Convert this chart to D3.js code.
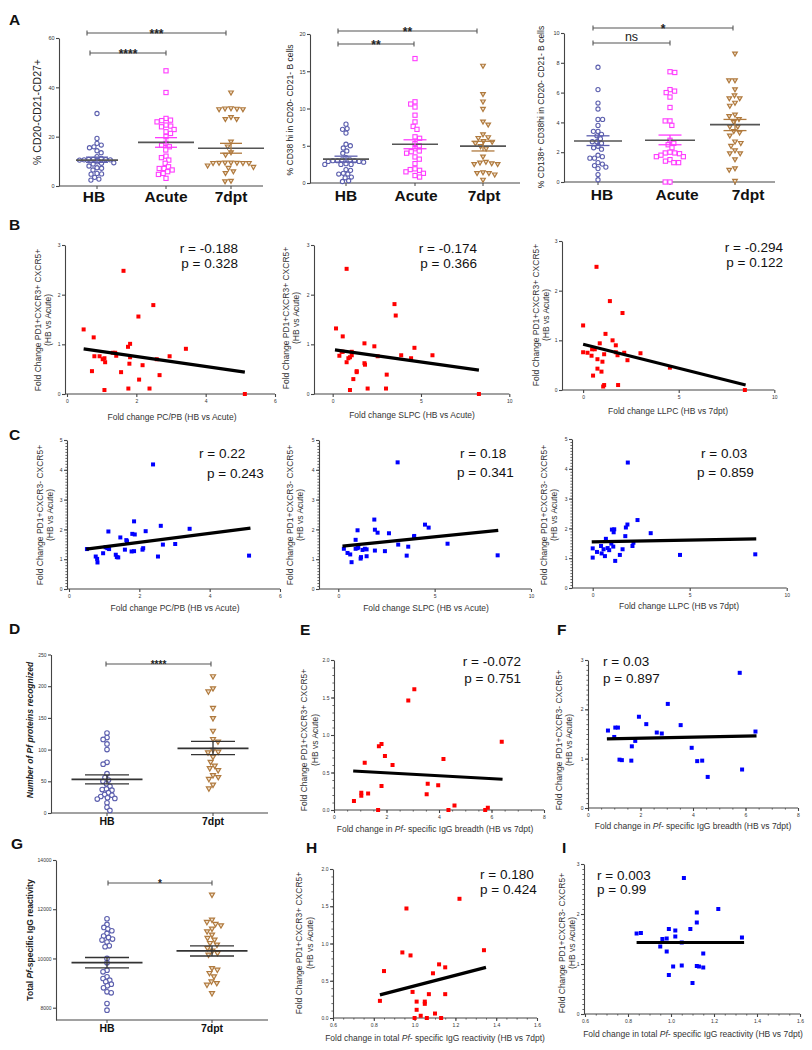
<!DOCTYPE html>
<html><head><meta charset="utf-8">
<script src="https://cdn.jsdelivr.net/npm/d3@7"></script>
<style>body{margin:0;background:#fff} text{font-family:"Liberation Sans",Arial,sans-serif}</style>
</head><body><svg id="chart" width="812" height="1050"></svg>
<script>
// ---------------- DATA ----------------
const groupsA = ["HB","Acute","7dpt"];
const groupsDG = ["HB","7dpt"];

// Panel A1: % CD20-CD21-CD27+
const a1_HB = [29.4,19.3,17.3,16.6,15.9,15.5,14.3,13.5,11.9,11.2,10.8,10.8,10.7,10.6,10.6,10.5,9.8,9.4,9.2,8.9,8.1,7.4,7.2,6.5,5.1,4.9,4.8,3.5,2.8,2.4];
const a1_Acute = [46.7,37.9,27.4,26.7,26.5,26.0,24.7,24.3,24.0,22.9,22.0,21.3,20.0,17.3,16.5,15.9,14.6,12.1,11.5,10.5,9.2,7.8,7.1,7.1,6.5,5.8,5.1,4.7,3.1];
const a1_7dpt = [37.8,31.4,31.3,31.2,31.0,31.0,27.8,27.0,27.0,17.9,15.9,13.5,12.5,9.4,9.4,9.3,9.3,9.2,9.2,9.2,8.2,7.6,7.2,5.8,5.1,2.0,1.8];
const a1_mean = [10.5,17.7,15.3];
const a1_semHi = [11.7,19.6,17.3];
const a1_semLo = [9.6,15.7,13.3];
const a1_sig = [["HB","7dpt","***"],["HB","Acute","****"]];
const a1_ticks = [0,20,40,60];

// Panel A2: % CD38 hi
const a2_HB = [7.9,7.3,7.2,6.7,5.2,5.0,4.7,4.3,4.0,3.4,3.1,3.1,3.0,3.0,3.0,2.9,2.9,2.8,2.6,2.5,2.5,2.5,1.8,1.7,1.3,1.2,1.2,0.8,0.7,0.3,0.2];
const a2_Acute = [16.7,10.9,10.6,10.2,9.1,8.2,7.6,7.2,6.2,6.0,5.3,5.0,4.6,4.3,4.2,4.0,3.5,3.2,2.6,1.9,1.8,1.7,1.5,1.3,1.0,0.8];
const a2_7dpt = [15.7,11.9,10.9,9.9,8.2,7.8,6.5,6.1,6.0,5.6,5.5,5.3,4.9,4.6,3.5,2.8,2.7,2.6,2.5,2.5,1.4,1.3,1.3,1.1,0.4];
const a2_mean = [3.2,5.2,4.95];
const a2_semHi = [3.6,5.8,5.6];
const a2_semLo = [2.8,4.6,4.3];
const a2_sig = [["HB","7dpt","**"],["HB","Acute","**"]];
const a2_ticks = [0,5,10,15,20];

// Panel A3: % CD138+ CD38hi
const a3_HB = [7.7,6.2,5.3,4.9,4.2,4.2,3.8,3.4,3.4,3.2,3.1,2.9,2.7,2.7,2.6,2.4,2.3,2.2,1.8,1.7,1.6,1.6,1.3,1.2,1.1,1.0,0.9,0.5,0.15];
const a3_Acute = [7.4,7.35,6.2,6.1,6.0,5.7,5.0,4.1,4.1,3.8,2.8,2.6,2.5,2.3,2.0,1.95,1.95,1.9,1.8,1.7,1.7,1.5,1.4,1.3,1.3,0,0];
const a3_7dpt = [8.6,6.8,6.8,6.2,5.8,5.6,5.6,5.3,5.1,4.5,4.4,4.2,4.0,3.7,3.7,3.4,3.3,3.1,2.7,2.6,2.4,2.1,1.9,1.9,1.5,0.9,0.8,0.05];
const a3_mean = [2.75,2.8,3.85];
const a3_semHi = [3.1,3.15,4.2];
const a3_semLo = [2.45,2.5,3.45];
const a3_sig = [["HB","7dpt","*"],["HB","Acute","ns"]];
const a3_ticks = [0,2,4,6,8,10];

// Panel B (CXCR3+)
const b1_x = [0.48,0.77,0.72,0.79,0.94,1.03,1.08,1.10,1.08,1.32,1.39,1.42,1.63,1.56,1.76,1.82,1.82,1.80,1.77,2.06,2.08,2.18,2.38,2.49,2.59,2.67,2.96,3.43,5.13];
const b1_y = [1.30,1.14,0.46,0.76,0.76,0.70,0.72,0.64,0.08,0.83,0.83,0.77,2.48,0.44,0.95,1.01,0.74,0.61,0.11,1.56,0.29,0.58,0.11,1.79,0.70,0.38,0.76,0.91,0.0];
const b1_fit = [[0.48,0.91],[5.13,0.44]];
const b1_stats = ["r = -0.188","p = 0.328"];

const b2_x = [0.19,0.57,0.38,0.51,0.57,0.79,0.79,0.89,0.98,1.08,1.08,0.98,1.17,1.36,1.36,1.80,1.80,1.83,1.98,2.36,2.55,3.02,3.06,3.50,3.57,3.88,4.44,4.63,5.65,8.28];
const b2_y = [1.32,1.16,0.77,0.85,0.85,2.52,0.64,0.72,0.74,0.85,0.78,0.08,0.30,0.46,0.44,1.02,0.62,0.59,0.11,0.96,0.76,0.11,0.39,1.81,1.58,0.78,0.72,0.93,0.78,0.0];
const b2_fit = [[0.13,0.89],[8.28,0.48]];
const b2_stats = ["r = -0.174","p = 0.366"];

const b3_x = [0,0,0.23,0.44,0.47,0.61,0.52,0.70,0.75,0.75,0.87,0.96,1.01,1.05,1.10,1.10,1.17,1.40,1.54,1.71,1.71,1.80,1.83,2.06,2.15,2.32,3.00,4.54,8.46];
const b3_y = [1.30,0.76,0.75,0.69,0.82,0.82,0.29,2.48,0.62,0.43,0.94,0.37,0.57,0.07,0.10,0.72,1.13,1.79,1.00,0.90,0.76,0.70,0.10,1.55,0.75,0.60,0.74,0.45,0.0];
const b3_fit = [[0,0.92],[8.50,0.10]];
const b3_stats = ["r = -0.294","p = 0.122"];

// Panel C (CXCR3-)
const c1_x = [0.51,0.76,0.80,0.81,0.97,1.04,1.09,1.14,1.12,1.33,1.36,1.40,1.46,1.59,1.63,1.65,1.78,1.80,1.85,1.87,1.85,2.09,2.11,2.18,2.39,2.53,2.61,2.67,3.02,3.43,5.12];
const c1_y = [1.34,1.09,1.01,0.89,1.20,1.40,1.37,1.34,1.93,1.15,1.07,1.06,1.73,1.32,1.64,1.60,1.26,1.85,1.27,1.83,2.27,1.32,1.37,1.94,4.18,1.09,2.12,1.49,1.51,2.02,1.12];
const c1_fit = [[0.49,1.34],[5.16,2.04]];
const c1_stats = ["r = 0.22","p = 0.243"];

const c2_x = [0.29,0.48,0.62,0.69,0.90,0.90,1.00,1.00,1.04,1.16,1.18,1.26,1.38,1.47,1.47,1.87,1.90,1.90,2.04,2.42,2.63,3.08,3.11,3.55,3.63,3.93,3.94,4.50,4.69,5.67,8.27];
const c2_y = [1.35,1.21,1.16,0.90,1.65,1.35,1.97,1.37,1.40,1.02,1.07,1.31,1.35,1.33,1.10,2.33,1.99,1.29,1.89,1.27,1.87,4.25,1.49,1.12,1.42,1.75,1.78,2.16,2.06,1.52,1.13];
const c2_fit = [[0.22,1.44],[8.30,1.97]];
const c2_stats = ["r = 0.18","p = 0.341"];

const c3_x = [0,0,0.22,0.43,0.46,0.56,0.63,0.68,0.77,0.85,0.96,0.99,1.08,1.11,1.06,1.16,1.40,1.54,1.68,1.71,1.79,1.81,2.05,2.10,2.31,2.99,4.50,8.38];
const c3_y = [1.33,1.02,1.21,1.41,1.16,1.30,1.07,1.65,1.34,1.27,1.49,1.96,1.87,1.97,1.39,0.91,1.11,1.30,1.74,2.03,2.13,4.21,1.41,1.52,2.28,1.84,1.11,1.13];
const c3_fit = [[-0.05,1.55],[8.43,1.65]];
const c3_stats = ["r = 0.03","p = 0.859"];

// Panel D: number of Pf proteins recognized
const d_HB = [126,119,116,109,100,80,77,62,56,52,50,46,42,38,37,36,32,29,28,26,24,23,22,16,9,4];
const d_7dpt = [215,196,191,165,149,129,116,112,99,96,95,88,80,74,70,67,59,56,53,44,38];
const d_mean = [53,102];
const d_semHi = [60,113];
const d_semLo = [46,92];
const d_sig = [["HB","7dpt","****"]];
const d_ticks = [0,50,100,150,200,250];

// Panel E, F: breadth
const e_x = [0.76,1.04,1.04,1.17,1.30,1.68,1.71,1.81,1.81,1.94,2.23,2.83,3.06,3.53,3.57,3.97,4.17,4.36,4.59,5.76,5.86,6.39];
const e_y = [0.12,0.23,0.19,0.63,0.22,0.0,0.85,0.88,0.32,0.72,0.60,1.46,1.61,0.21,0.35,0.33,0.68,0.0,0.06,0.0,0.03,0.91];
const e_fit = [[0.73,0.52],[6.42,0.41]];
const e_stats = ["r = -0.072","p = 0.751"];

const f_x = [0.76,1.00,1.04,1.14,1.20,1.29,1.67,1.65,1.80,1.94,2.22,2.62,2.81,3.04,3.53,3.95,4.16,4.35,4.56,5.87,6.38,5.78];
const f_y = [1.57,1.44,1.63,1.63,0.98,0.97,1.25,0.96,1.36,1.85,1.70,1.53,1.51,2.11,1.68,1.22,0.95,0.96,0.63,0.78,1.55,2.74];
const f_fit = [[0.72,1.40],[6.42,1.46]];
const f_stats = ["r = 0.03","p = 0.897"];

// Panel G: total Pf-specific IgG reactivity
const g_HB = [11614,11383,11261,11193,11125,11017,10908,10854,10786,10746,10664,10515,10475,10000,9824,9525,9458,9254,9186,9119,9051,8956,8888,8807,8644,8603,8169,7898];
const g_7dpt = [12576,11559,11464,11383,11329,11193,11085,10949,10814,10746,10610,10542,10407,10298,10203,10136,9593,9525,9390,9254,9051,8983,8915,8576];
const g_mean = [9830,10310];
const g_semHi = [10040,10510];
const g_semLo = [9620,10100];
const g_sig = [["HB","7dpt","*"]];
const g_ticks = [8000,10000,12000,14000];

// Panel H, I: total reactivity
const h_x = [0.83,0.85,0.94,0.96,0.98,0.99,1.00,1.01,1.01,1.03,1.05,1.05,1.06,1.07,1.09,1.10,1.12,1.13,1.15,1.15,1.22,1.34];
const h_y = [0.23,0.63,0.88,1.47,0.84,0.35,0.0,0.22,0.11,0.03,0.19,0.22,0.0,0.32,0.60,0.06,0.72,0.0,0.68,0.32,1.60,0.91];
const h_fit = [[0.83,0.31],[1.35,0.68]];
const h_stats = ["r = 0.180","p = 0.424"];

const i_x = [0.84,0.86,0.95,0.96,0.98,0.98,0.99,1.01,0.99,1.02,1.02,1.05,1.05,1.06,1.09,1.10,1.12,1.12,1.12,1.13,1.15,1.15,1.22,1.33];
const i_y = [1.61,1.62,1.35,1.50,1.51,1.25,1.70,0.95,0.78,1.55,1.67,1.43,0.97,2.72,1.70,0.62,0.96,2.03,1.83,0.95,0.93,1.21,2.10,1.53];
const i_fit = [[0.84,1.43],[1.34,1.43]];
const i_stats = ["r = 0.003","p = 0.99"];

// tick label arrays
const ticks3 = [0,1,2,3];
const ticks5 = [0,1,2,3,4,5];
const ticks2h = [0,0.5,1,1.5,2];
const xt6 = [0,2,4,6];
const xt10 = [0,5,10];
const xt8 = [0,2,4,6,8];
const xtR = [0.6,0.8,1.0,1.2,1.4,1.6];

const ylab3p = "Fold Change PD1+CXCR3+ CXCR5+";
const ylab3m = "Fold Change PD1+CXCR3- CXCR5+";
const ylab2 = "(HB vs Acute)";

// ---------------- DRAWING ----------------
const svg = d3.select("#chart");
const COLORS = {HB:"#5c5fae", Acute:"#ff3cff", "7dpt":"#b07a3e"};
const SHAPES = {HB:"circle", Acute:"square", "7dpt":"tri"};
const DISTK = {circle:1, square:1.05, tri:1.3};
const AX = "#444";

function panelLetter(x,y,t){
  svg.append("text").attr("x",x).attr("y",y).attr("font-size",15.5).attr("font-weight","bold").attr("fill","#111").text(t);
}

function marker(g, shape, cx, cy, color, s){
  if(shape==="circle") g.append("circle").attr("cx",cx).attr("cy",cy).attr("r",s).attr("fill","#fff").attr("stroke",color).attr("stroke-width",1.1);
  else if(shape==="square") g.append("rect").attr("x",cx-s).attr("y",cy-s).attr("width",2*s).attr("height",2*s).attr("fill","#fff").attr("stroke",color).attr("stroke-width",1.1);
  else g.append("path").attr("d",`M${cx-s*1.1},${cy-s*0.85}L${cx+s*1.1},${cy-s*0.85}L${cx},${cy+s*1.05}Z`).attr("fill","#f1e2cf").attr("stroke",color).attr("stroke-width",1.2);
}

function swarm(vals, y, d){
  const pts = vals.map(v=>({v, cy:y(v), dx:0})).sort((a,b)=>b.v-a.v);
  const placed = [];
  let flip = 1;
  for(const p of pts){
    const cands=[0];
    for(const q of placed){
      const dy=Math.abs(q.cy-p.cy);
      if(dy<d){ const w=Math.sqrt(d*d-dy*dy); cands.push(q.dx+w, q.dx-w); }
    }
    cands.sort((a,b)=>Math.abs(a)-Math.abs(b) || (a*flip<b*flip?-1:1));
    for(const c of cands){
      if(placed.every(q=>{const dx=q.dx-c, dy=q.cy-p.cy; return dx*dx+dy*dy>=d*d-0.01;})){p.dx=c;break;}
    }
    flip=-flip;
    placed.push(p);
  }
  return pts;
}

function styleAxis(sel, fs){
  sel.selectAll("path,line").attr("stroke",AX).attr("stroke-width",1.1);
  sel.selectAll("text").attr("font-size",fs).attr("fill","#333").attr("font-family","Liberation Sans, Arial, sans-serif");
}

function rich(parent, parts, attrs){
  const t = parent.append("text");
  Object.entries(attrs).forEach(([k,v])=>t.attr(k,v));
  parts.forEach(p=>{ const s=t.append("tspan").text(p[0]); if(p[1]) s.attr("font-style","italic"); });
  return t;
}

function dotPlot(o){
  const g = svg.append("g");
  const y = d3.scaleLinear().domain(o.domain).range([o.y0,o.y1]);
  const x = d3.scaleOrdinal().domain(o.groups).range(o.centers);
  const ya = g.append("g").attr("transform",`translate(${o.ax},0)`)
    .call(d3.axisLeft(y).tickValues(o.ticks).tickSize(3).tickSizeOuter(0).tickPadding(1.5).tickFormat(d3.format("d")));
  styleAxis(ya, o.tickFont||5.5);
  g.append("line").attr("x1",o.ax).attr("x2",o.xEnd).attr("y1",o.y0).attr("y2",o.y0).attr("stroke",AX).attr("stroke-width",1.2);
  o.groups.forEach((k,i)=>{
    g.append("line").attr("x1",x(k)).attr("x2",x(k)).attr("y1",o.y0).attr("y2",o.y0+3).attr("stroke",AX).attr("stroke-width",1);
    g.append("text").attr("x",x(k)+(o.labelShift?o.labelShift[i]:0)).attr("y",o.labelY).attr("text-anchor","middle")
      .attr("font-size",o.labelSize).attr("font-weight","bold").attr("fill","#111").text(k);
  });
  o.groups.forEach((k,i)=>{
    swarm(o.series[i], y, o.dist*DISTK[SHAPES[k]]).forEach(p=>marker(g, SHAPES[k], x(k)+p.dx, p.cy, COLORS[k], o.ms));
  });
  o.groups.forEach((k,i)=>{
    const cx=x(k), ec=o.errColor||COLORS[k];
    g.append("line").attr("x1",cx-o.meanHalf[i]).attr("x2",cx+o.meanHalf[i]).attr("y1",y(o.mean[i])).attr("y2",y(o.mean[i]))
      .attr("stroke",o.meanColor).attr("stroke-width",1.6);
    g.append("line").attr("x1",cx).attr("x2",cx).attr("y1",y(o.lo[i])).attr("y2",y(o.hi[i])).attr("stroke",ec).attr("stroke-width",1.3);
    [o.lo[i],o.hi[i]].forEach(v=>g.append("line").attr("x1",cx-o.capHalf).attr("x2",cx+o.capHalf).attr("y1",y(v)).attr("y2",y(v)).attr("stroke",ec).attr("stroke-width",1.3));
  });
  o.sig.forEach((s,j)=>{
    const yy=o.sigY[j], x1=x(s[0])+o.sigShift[j][0], x2=x(s[1])+o.sigShift[j][1];
    g.append("line").attr("x1",x1).attr("x2",x2).attr("y1",yy).attr("y2",yy).attr("stroke","#555").attr("stroke-width",1.1);
    [x1,x2].forEach(xx=>g.append("line").attr("x1",xx).attr("x2",xx).attr("y1",yy-2.5).attr("y2",yy+2.5).attr("stroke","#555").attr("stroke-width",1.1));
    if(s[2]==="ns") g.append("text").attr("x",(x1+x2)/2).attr("y",yy-2).attr("text-anchor","middle").attr("font-size",12.5).attr("fill","#222").text("ns");
    else g.append("text").attr("x",(x1+x2)/2).attr("y",yy+o.starDy).attr("text-anchor","middle").attr("font-size",o.starSize).attr("font-weight","bold").attr("fill","#222").text(s[2]);
  });
  const yl = o.ylabel;
  rich(g, yl.parts, {transform:`translate(${yl.x},${yl.y}) rotate(-90)`, "text-anchor":"middle", "font-size":yl.size,
    "font-weight":yl.bold?"bold":"normal", "font-style":yl.italic?"italic":"normal", fill:"#222"});
}

function scatter(o){
  const g = svg.append("g");
  const x = d3.scaleLinear().domain(o.xd).range(o.xr);
  const y = d3.scaleLinear().domain(o.yd).range(o.yr);
  if(o.yminor){
    const m = g.append("g").attr("transform",`translate(${o.ax},0)`).call(d3.axisLeft(y).tickValues(d3.range(o.yd[0],o.yd[1]+1e-9,o.yminor)).tickSize(1.6).tickFormat(""));
    m.select(".domain").remove(); m.selectAll("line").attr("stroke",AX).attr("stroke-width",0.8);
  }
  if(o.xminor){
    const m = g.append("g").attr("transform",`translate(0,${o.yr[0]})`).call(d3.axisBottom(x).tickValues(d3.range(o.xd[0],o.xd[1]+1e-9,o.xminor)).tickSize(1.6).tickFormat(""));
    m.select(".domain").remove(); m.selectAll("line").attr("stroke",AX).attr("stroke-width",0.8);
  }
  const ya = g.append("g").attr("transform",`translate(${o.ax},0)`)
    .call(d3.axisLeft(y).tickValues(o.yticks).tickSize(3).tickSizeOuter(0).tickPadding(1.5).tickFormat(d3.format(o.yfmt||"d")));
  styleAxis(ya, 5);
  const xa = g.append("g").attr("transform",`translate(0,${o.yr[0]})`)
    .call(d3.axisBottom(x).tickValues(o.xticks).tickSize(3).tickSizeOuter(0).tickPadding(2).tickFormat(d3.format(o.xfmt||"d")));
  xa.select(".domain").remove();
  styleAxis(xa, 5);
  g.append("line").attr("x1",o.ax).attr("x2",o.xr[1]).attr("y1",o.yr[0]).attr("y2",o.yr[0]).attr("stroke",AX).attr("stroke-width",1.2);
  o.xs.forEach((v,i)=>g.append("rect").attr("x",x(v)-2).attr("y",y(o.ys[i])-2).attr("width",4).attr("height",4).attr("fill",o.color));
  g.append("line").attr("x1",x(o.fit[0][0])).attr("y1",y(o.fit[0][1])).attr("x2",x(o.fit[1][0])).attr("y2",y(o.fit[1][1]))
    .attr("stroke","#000").attr("stroke-width",3.2).attr("stroke-linecap","butt");
  o.stats.forEach((s,i)=>g.append("text").attr("x",o.statX[i]).attr("y",o.statY[i]).attr("text-anchor",o.anchor)
    .attr("font-size",13.5).attr("fill","#111").text(s));
  rich(g, o.xlabel, {x:o.xlx, y:o.xly, "text-anchor":"middle", "font-size":8.5, fill:"#333"});
  [o.yl1, ylab2].forEach((t,i)=>g.append("text").attr("transform",`translate(${o.ylx[i]},${o.yly}) rotate(-90)`)
    .attr("text-anchor","middle").attr("font-size",8.5).attr("fill","#333").text(t));
}

// ---- Panel A ----
panelLetter(9,25,"A");
dotPlot({groups:groupsA, series:[a1_HB,a1_Acute,a1_7dpt], mean:a1_mean, hi:a1_semHi, lo:a1_semLo, sig:a1_sig, ticks:a1_ticks,
  domain:[0,60], ax:59, y0:186, y1:38, xEnd:263, centers:[97,166,231], labelY:202, labelSize:15.5, labelShift:[-3,0,0],
  meanHalf:[21,28,33], capHalf:11, meanColor:"#555", sigY:[33,53], sigShift:[[-10,-5],[-7,0]], starSize:12, starDy:4.5,
  ms:2.1, dist:4.6, ylabel:{parts:[["% CD20-CD21-CD27+",0]], x:41, y:112, size:10.5}});
dotPlot({groups:groupsA, series:[a2_HB,a2_Acute,a2_7dpt], mean:a2_mean, hi:a2_semHi, lo:a2_semLo, sig:a2_sig, ticks:a2_ticks,
  domain:[0,20], ax:310, y0:183, y1:34, xEnd:520, centers:[346,415,483], labelY:201, labelSize:15.5, labelShift:[0,1,1],
  meanHalf:[23,23,23], capHalf:11.5, meanColor:"#555", sigY:[31,44], sigShift:[[-8,-6],[-8,-1]], starSize:12, starDy:4.5,
  ms:2.1, dist:4.6, ylabel:{parts:[["% CD38 hi in CD20- CD21- B cells",0]], x:293, y:110, size:8.5}});
dotPlot({groups:groupsA, series:[a3_HB,a3_Acute,a3_7dpt], mean:a3_mean, hi:a3_semHi, lo:a3_semLo, sig:a3_sig, ticks:a3_ticks,
  domain:[0,10], ax:564, y0:182, y1:33, xEnd:775, centers:[598,670,735], labelY:200, labelSize:15.5, labelShift:[4,7,13],
  meanHalf:[24,25,25], capHalf:11.5, meanColor:"#555", sigY:[28,43], sigShift:[[-5,-2],[-5,0]], starSize:12, starDy:4.5,
  ms:2.1, dist:4.6, ylabel:{parts:[["% CD138+ CD38hi in CD20- CD21- B cells",0]], x:544, y:107, size:8.5}});

// ---- Panel B ----
panelLetter(9,230,"B");
scatter({xd:[0,6], xr:[67,275], yd:[0,3], yr:[394,245], ax:65, xticks:xt6, yticks:ticks3, xs:b1_x, ys:b1_y, fit:b1_fit, color:"#ff0000",
  stats:b1_stats, statX:[238,238], statY:[253,268], anchor:"end", xlabel:[["Fold change PC/PB (HB vs Acute)",0]], xlx:172, xly:420,
  yl1:ylab3p, ylx:[41,51], yly:320});
scatter({xd:[-1,10], xr:[315,509.3], yd:[0,3], yr:[394,245], ax:314, xticks:xt10, yticks:ticks3, xs:b2_x, ys:b2_y, fit:b2_fit, color:"#ff0000",
  stats:b2_stats, statX:[477,477], statY:[253,268], anchor:"end", xlabel:[["Fold change SLPC (HB vs Acute)",0]], xlx:412, xly:418,
  yl1:ylab3p, ylx:[289,299], yly:318});
scatter({xd:[-1,10], xr:[564,774.3], yd:[0,3], yr:[390,241], ax:562, xticks:xt10, yticks:ticks3, xs:b3_x, ys:b3_y, fit:b3_fit, color:"#ff0000",
  stats:b3_stats, statX:[783,783], statY:[252,267], anchor:"end", xlabel:[["Fold change LLPC (HB vs 7dpt)",0]], xlx:668, xly:414,
  yl1:ylab3p, ylx:[539,549], yly:315});

// ---- Panel C ----
panelLetter(9,440,"C");
scatter({xd:[0,6], xr:[69,280], yd:[0,5], yr:[589,440], ax:67, xticks:xt6, yticks:ticks5, yminor:0.1, xs:c1_x, ys:c1_y, fit:c1_fit, color:"#0000ff",
  stats:c1_stats, statX:[199,207], statY:[458,478], anchor:"start", xlabel:[["Fold change PC/PB (HB vs Acute)",0]], xlx:175, xly:611,
  yl1:ylab3m, ylx:[43,53], yly:515});
scatter({xd:[-1,10], xr:[319,531], yd:[0,5], yr:[589,440], ax:319, xticks:xt10, yticks:ticks5, yminor:0.1, xs:c2_x, ys:c2_y, fit:c2_fit, color:"#0000ff",
  stats:c2_stats, statX:[460,457], statY:[458,477], anchor:"start", xlabel:[["Fold change SLPC (HB vs Acute)",0]], xlx:426, xly:611,
  yl1:ylab3m, ylx:[293,303], yly:515});
scatter({xd:[-1,10], xr:[573.3,786.7], yd:[0,5], yr:[588,439], ax:572, xticks:xt10, yticks:ticks5, yminor:0.1, xs:c3_x, ys:c3_y, fit:c3_fit, color:"#0000ff",
  stats:c3_stats, statX:[701,697], statY:[458,477], anchor:"start", xlabel:[["Fold change LLPC (HB vs 7dpt)",0]], xlx:679, xly:609,
  yl1:ylab3m, ylx:[547,557], yly:515});

// ---- Panel D ----
panelLetter(9,634,"D");
dotPlot({groups:groupsDG, series:[d_HB,d_7dpt], mean:d_mean, hi:d_semHi, lo:d_semLo, sig:d_sig, ticks:d_ticks,
  domain:[0,250], ax:51, y0:813, y1:654.5, xEnd:268, centers:[107,213], labelY:825, labelSize:10.5,
  meanHalf:[35.5,35.5], capHalf:22, meanColor:"#333", errColor:"#333", sigY:[664], sigShift:[[-1,-2]], starSize:10, starDy:3.5,
  ms:2.3, dist:4.3, tickFont:5, ylabel:{parts:[["Number of ",0],["Pf",1],[" proteins recognized",0]], x:33, y:730, size:8.5, bold:true, italic:true}});

// ---- Panel E / F ----
panelLetter(300,635,"E");
scatter({xd:[0,8], xr:[334,544], yd:[0,2], yr:[810,660], ax:334, xticks:xt8, yticks:ticks2h, yfmt:".1f", yminor:0.1, xminor:0.5,
  xs:e_x, ys:e_y, fit:e_fit, color:"#ff0000", stats:e_stats, statX:[521,521], statY:[666,683], anchor:"end",
  xlabel:[["Fold change in ",0],["Pf",1],["- specific IgG breadth (HB vs 7dpt)",0]], xlx:435, xly:832,
  yl1:ylab3p, ylx:[307,318], yly:740});
panelLetter(557,635,"F");
scatter({xd:[0,8], xr:[588,798], yd:[0,3], yr:[808,660], ax:588, xticks:xt8, yticks:ticks3, yminor:0.1, xminor:0.5,
  xs:f_x, ys:f_y, fit:f_fit, color:"#0000ff", stats:f_stats, statX:[603,603], statY:[666,683], anchor:"start",
  xlabel:[["Fold change in ",0],["Pf",1],["- specific IgG breadth (HB vs 7dpt)",0]], xlx:693, xly:829,
  yl1:ylab3m, ylx:[562,572], yly:740});

// ---- Panel G ----
panelLetter(11,849,"G");
dotPlot({groups:groupsDG, series:[g_HB,g_7dpt], mean:g_mean, hi:g_semHi, lo:g_semLo, sig:g_sig, ticks:g_ticks,
  domain:[7500,14000], ax:56, y0:1020, y1:860, xEnd:268, centers:[107,212], labelY:1032, labelSize:10.5,
  meanHalf:[35.5,35.5], capHalf:22, meanColor:"#333", errColor:"#333", sigY:[883], sigShift:[[1,0]], starSize:10, starDy:3.5,
  ms:2.3, dist:4.3, tickFont:5, ylabel:{parts:[["Total ",0],["Pf",1],["-specific IgG reactivity",0]], x:33, y:940, size:8.5, bold:true}});

// ---- Panel H / I ----
panelLetter(306,853,"H");
scatter({xd:[0.6,1.6], xr:[333,537], yd:[0,2], yr:[1018,869], ax:333, xticks:xtR, xfmt:".1f", yticks:ticks2h, yfmt:".1f", yminor:0.1, xminor:0.05,
  xs:h_x, ys:h_y, fit:h_fit, color:"#ff0000", stats:h_stats, statX:[480,480], statY:[879,894], anchor:"start",
  xlabel:[["Fold change in total ",0],["Pf",1],["- specific IgG reactivity (HB vs 7dpt)",0]], xlx:435, xly:1041,
  yl1:ylab3p, ylx:[302,313], yly:943});
panelLetter(562,853,"I");
scatter({xd:[0.6,1.6], xr:[585,800], yd:[0,3], yr:[1014,864], ax:584, xticks:xtR, xfmt:".1f", yticks:ticks3, yminor:0.1, xminor:0.05,
  xs:i_x, ys:i_y, fit:i_fit, color:"#0000ff", stats:i_stats, statX:[597,597], statY:[880,894], anchor:"start",
  xlabel:[["Fold change in total ",0],["Pf",1],["- specific IgG reactivity (HB vs 7dpt)",0]], xlx:693, xly:1037,
  yl1:ylab3m, ylx:[565,575], yly:943});
</script></body></html>
